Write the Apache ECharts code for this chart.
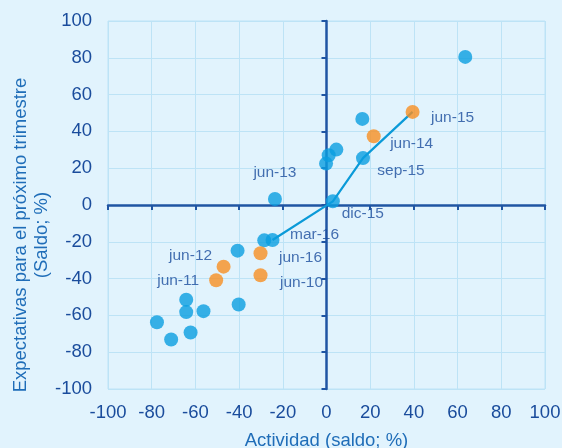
<!DOCTYPE html>
<html><head><meta charset="utf-8">
<script src="https://cdn.jsdelivr.net/npm/echarts@6/dist/echarts.min.js"></script>
<style>html,body{margin:0;padding:0;background:#e1f3fd;}#c{width:562px;height:448px;}</style>
</head><body><div id="c"></div>
<script>
// Blue points (x = Actividad, y = Expectativas)
const blueX = [63.5, 16.4, 4.5, 1.0, -0.2, 16.7, 2.9, -23.6, -24.7, -28.5, -40.7, -40.2, -64.2, -64.2, -56.3, -77.6, -71.1, -62.2];
const blueY = [80.5, 46.8, 30.1, 27.0, 22.5, 25.5, 2.0, 3.3, -19.0, -19.2, -24.8, -54.1, -51.5, -58.2, -57.7, -63.7, -73.1, -69.3];
const blueLabels = ['', '', '', '', '', 'sep-15', 'dic-15', 'jun-13', 'mar-16', '', '', '', '', '', '', '', '', ''];
// Orange points (June observations)
const orangeX = [39.4, 21.6, -30.2, -30.2, -47.1, -50.5];
const orangeY = [50.6, 37.4, -26.2, -38.2, -33.5, -40.9];
const orangeLabels = ['jun-15', 'jun-14', 'jun-16', 'jun-10', 'jun-12', 'jun-11'];
// Connecting line jun-15 -> sep-15 -> dic-15 -> mar-16
const lineX = [39.4, 16.7, 2.9, -24.7];
const lineY = [50.6, 25.5, 2.0, -19.0];
const xTitle = 'Actividad (saldo; %)';
const yTitle = 'Expectativas para el próximo trimestre\n(Saldo; %)';

const labelOffsets = {
  'jun-15': [40, 6], 'jun-14': [38, 8], 'sep-15': [38, 13], 'dic-15': [30, 12],
  'mar-16': [42, -5], 'jun-16': [40, 5], 'jun-10': [41, 7], 'jun-12': [-33, -11],
  'jun-11': [-38, 0], 'jun-13': [0, -26]
};
const dark = '#1a4c9c';
const font = 'Liberation Sans, Arial, sans-serif';
function pts(xs, ys, labels) {
  return xs.map((x, i) => {
    const d = { value: [x, ys[i]] };
    const l = labels[i];
    if (l) {
      d.label = { show: true, formatter: l, position: 'inside', offset: labelOffsets[l],
        color: dark, fontSize: 15.5, fontFamily: font };
    }
    return d;
  });
}
const chart = echarts.init(document.getElementById('c'));
const baseAxis = {
  type: 'value', min: -100, max: 100, interval: 20
};
chart.setOption({
  backgroundColor: '#e1f3fd',
  animation: false,
  grid: { left: 108, right: 17, top: 21, bottom: 59, show: true, borderColor: '#bde3f6', borderWidth: 1,
          containLabel: false, outerBoundsMode: 'none' },
  graphic: [{
    type: 'text', x: 31, y: 235, rotation: Math.PI / 2,
    style: { text: yTitle, textAlign: 'center', textVerticalAlign: 'middle',
      fill: '#1f6db8', fontSize: 18.5, fontFamily: font, lineHeight: 21 }
  }],
  xAxis: [
    Object.assign({}, baseAxis, {
      position: 'bottom',
      axisLine: { show: false, onZero: false },
      axisTick: { show: false },
      axisLabel: { color: dark, fontSize: 18.5, fontFamily: font, margin: 14 },
      splitLine: { show: true, lineStyle: { color: '#bde3f6', width: 1 } },
      name: xTitle, nameLocation: 'middle', nameGap: 42,
      nameTextStyle: { color: '#1f6db8', fontSize: 18.5, fontFamily: font }
    }),
    Object.assign({}, baseAxis, {
      position: 'bottom',
      axisLine: { show: true, onZero: true, onZeroAxisIndex: 0, lineStyle: { color: '#1f55a3', width: 2.5 } },
      axisTick: { show: true, length: 5, inside: false, lineStyle: { color: '#1f55a3', width: 2 } },
      axisLabel: { show: false },
      splitLine: { show: false }
    })
  ],
  yAxis: [
    Object.assign({}, baseAxis, {
      position: 'left',
      axisLine: { show: false, onZero: false },
      axisTick: { show: false },
      axisLabel: { color: dark, fontSize: 18.5, fontFamily: font, margin: 16 },
      splitLine: { show: true, lineStyle: { color: '#bde3f6', width: 1 } }
    }),
    Object.assign({}, baseAxis, {
      position: 'left',
      axisLine: { show: true, onZero: true, onZeroAxisIndex: 0, lineStyle: { color: '#1f55a3', width: 2.5 } },
      axisTick: { show: true, length: 5, inside: false, lineStyle: { color: '#1f55a3', width: 2 } },
      axisLabel: { show: false },
      splitLine: { show: false }
    })
  ],
  series: [
    {
      type: 'line', xAxisIndex: 0, yAxisIndex: 0, z: 2,
      data: lineX.map((x, i) => [x, lineY[i]]),
      showSymbol: false, symbol: 'none',
      lineStyle: { color: '#0a9ad8', width: 2.2 }
    },
    {
      type: 'scatter', xAxisIndex: 0, yAxisIndex: 0, z: 3,
      symbolSize: 14, itemStyle: { color: '#0a9ee0' },
      data: pts(blueX, blueY, blueLabels)
    },
    {
      type: 'scatter', xAxisIndex: 0, yAxisIndex: 0, z: 4,
      symbolSize: 14, itemStyle: { color: '#f78f22' },
      data: pts(orangeX, orangeY, orangeLabels)
    }
  ]
});
</script>
</body></html>
